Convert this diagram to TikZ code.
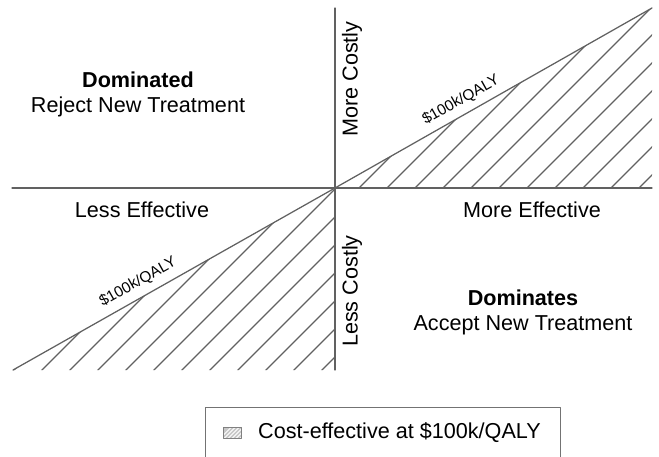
\documentclass[tikz,border=0pt]{standalone}
\usepackage{fontspec}
\setmainfont{Liberation Sans}
\begin{document}
\begin{tikzpicture}[x=1pt,y=-1pt,line join=round,line cap=round]
    \tikzset{axis line/.style={draw=black!62,line width=1.25pt},
        hatch line/.style={draw=black!62,line width=1.1pt},
        big text/.style={font=\fontsize{21.6}{25}\selectfont,align=center,inner sep=0pt},
        wtp text/.style={font=\fontsize{15.3}{18}\selectfont,inner sep=0pt,rotate=29.4}}
    \useasboundingbox (0,0) rectangle (659,457);
    %% plane
    \coordinate (O) at (335,188);
    \coordinate (west) at (12,188);
    \coordinate (east) at (652,188);
    \coordinate (north) at (335,8);
    \coordinate (south) at (335,370);
    \coordinate (ne) at (652,8);
    \coordinate (sw) at (13,370);
    %% hatching
    \begin{scope}
        \clip (O) -- (ne) -- (east) -- cycle;
        \foreach \k in {0,...,10} \draw[hatch line] (547+28*\k-400,400) -- (547+28*\k+100,-100);
    \end{scope}
    \begin{scope}
        \clip (O) -- (south) -- (sw) -- cycle;
        \foreach \k in {-1,...,10} \draw[hatch line] (412+28*\k-400,400) -- (412+28*\k+100,-100);
    \end{scope}
    \draw[axis line] (west) -- (east);
    \draw[axis line] (north) -- (south);
    \draw[axis line] (sw) -- (O) -- (ne);
    %% labels
    \node[big text] (dominated) at (138,94) {\textbf{Dominated}\\Reject New Treatment};
    \node[big text] (dominates) at (523,312) {\textbf{Dominates}\\Accept New Treatment};
    \node[big text] (lesseff) at (142,210) {Less Effective};
    \node[big text] (moreeff) at (532,210) {More Effective};
    \node[big text,rotate=90] (morecost) at (352,79) {More Costly};
    \node[big text,rotate=90] (lesscost) at (352,291) {Less Costly};
    \node[wtp text] (wtpup) at (461,100) {\$100k/QALY};
    \node[wtp text] (wtplow) at (138,282) {\$100k/QALY};
    %% legend
    \node[draw=black!55,line width=1pt,minimum width=355pt,minimum height=60pt,inner sep=0pt] (legend) at (382.5,437) {};
    \node[draw=black!50,fill=black!22,minimum width=18pt,minimum height=11pt,inner sep=0pt,
        path picture={\foreach \j in {-3,...,3} \draw[white,line width=0.8pt] ([xshift=4*\j pt]path picture bounding box.south) -- ++(12,-12);}]
        (key) at (232.5,432.5) {};
    \node[font=\fontsize{21.6}{25}\selectfont,anchor=west,inner sep=0pt] (keytext) at (258,432.5) {Cost-effective at \$100k/QALY};
\end{tikzpicture}
\end{document}
